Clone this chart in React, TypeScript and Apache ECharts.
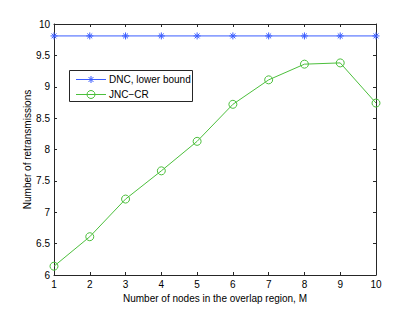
import React, { useEffect, useRef } from "react";
import * as echarts from "echarts";

const xValues = [1, 2, 3, 4, 5, 6, 7, 8, 9, 10];
const dncValues = [9.81, 9.81, 9.81, 9.81, 9.81, 9.81, 9.81, 9.81, 9.81, 9.81];
const jncValues = [6.14, 6.61, 7.21, 7.66, 8.13, 8.72, 9.11, 9.36, 9.38, 8.74];
const seriesNames = ["DNC, lower bound", "JNC\u2212CR"];

const FONT = "Liberation Sans, Arial, Helvetica, sans-serif";
const BLUE = "#3a5cff";
const GREEN = "#4cbf3c";
const AXIS = "#262626";
const STAR = "path://M0,-1L0,1M-1,0L1,0M-0.7,-0.7L0.7,0.7M-0.7,0.7L0.7,-0.7";

function starLines(cx: number, cy: number, r: number, color: string) {
  const d = 0.7 * r;
  const segs = [
    [0, -r, 0, r],
    [-r, 0, r, 0],
    [-d, -d, d, d],
    [-d, d, d, -d],
  ];
  return segs.map((s) => ({
    type: "line",
    shape: { x1: cx + s[0], y1: cy + s[1], x2: cx + s[2], y2: cy + s[3] },
    style: { stroke: color, lineWidth: 1 },
    z: 102,
  }));
}

export default function App() {
  const ref = useRef<HTMLDivElement>(null);
  useEffect(() => {
    if (!ref.current) return;
    const chart = echarts.init(ref.current, undefined, { renderer: "svg" });
    const axisCommon = {
      axisLine: { show: true, onZero: false, lineStyle: { color: AXIS, width: 1 } },
      axisTick: { show: true, inside: true, length: 3, lineStyle: { color: AXIS } },
      splitLine: { show: false },
    };
    const lx = 69, ly = 70, lw = 123, lh = 31;
    const r1 = 79, r2 = 94, sx1 = 76, sx2 = 106, mx = 91, tx = 109;
    chart.setOption({
      animation: false,
      backgroundColor: "#fff",
      textStyle: { fontFamily: FONT },
      grid: { left: 54, right: 39, top: 24, bottom: 35, containLabel: false },
      legend: { show: false },
      graphic: [
        {
          type: "rect",
          shape: { x: lx + 0.5, y: ly + 0.5, width: lw, height: lh },
          style: { fill: "#fff", stroke: AXIS, lineWidth: 1 },
          z: 100,
        },
        {
          type: "line",
          shape: { x1: sx1, y1: r1 + 0.5, x2: sx2, y2: r1 + 0.5 },
          style: { stroke: BLUE, lineWidth: 1 },
          z: 101,
        },
        ...starLines(mx, r1 + 0.5, 3.5, BLUE),
        {
          type: "text",
          x: tx,
          y: r1,
          style: {
            text: seriesNames[0],
            fill: "#000",
            font: `10px ${FONT}`,
            textVerticalAlign: "middle",
            verticalAlign: "middle",
          },
          z: 101,
        },
        {
          type: "line",
          shape: { x1: sx1, y1: r2 + 0.5, x2: sx2, y2: r2 + 0.5 },
          style: { stroke: GREEN, lineWidth: 1 },
          z: 101,
        },
        {
          type: "circle",
          shape: { cx: mx, cy: r2 + 0.5, r: 4 },
          style: { fill: "none", stroke: GREEN, lineWidth: 1 },
          z: 102,
        },
        {
          type: "text",
          x: tx,
          y: r2,
          style: {
            text: seriesNames[1],
            fill: "#000",
            font: `10px ${FONT}`,
            textVerticalAlign: "middle",
            verticalAlign: "middle",
          },
          z: 101,
        },
      ],
      xAxis: [
        {
          type: "value",
          min: 1,
          max: 10,
          interval: 1,
          position: "bottom",
          name: "Number of nodes in the overlap region, M",
          nameLocation: "middle",
          nameGap: 14,
          nameTextStyle: { fontFamily: FONT, fontSize: 10, color: "#000" },
          axisLabel: { margin: 4, fontFamily: FONT, fontSize: 10, color: "#000" },
          ...axisCommon,
        },
        {
          type: "value",
          min: 1,
          max: 10,
          interval: 1,
          position: "top",
          axisLabel: { show: false },
          ...axisCommon,
        },
      ],
      yAxis: [
        {
          type: "value",
          min: 6,
          max: 10,
          interval: 0.5,
          position: "left",
          name: "Number of retransmissions",
          nameLocation: "middle",
          nameGap: 22,
          nameMoveOverlap: false,
          nameTextStyle: { fontFamily: FONT, fontSize: 10, color: "#000" },
          axisLabel: { margin: 4, fontFamily: FONT, fontSize: 10, color: "#000" },
          ...axisCommon,
        },
        {
          type: "value",
          min: 6,
          max: 10,
          interval: 0.5,
          position: "right",
          axisLabel: { show: false },
          ...axisCommon,
        },
      ],
      series: [
        {
          name: seriesNames[0],
          type: "line",
          data: xValues.map((x, i) => [x, dncValues[i]]),
          symbol: STAR,
          symbolSize: 7,
          showAllSymbol: true,
          lineStyle: { color: BLUE, width: 1 },
          itemStyle: { color: "transparent", borderColor: BLUE, borderWidth: 1 },
        },
        {
          name: seriesNames[1],
          type: "line",
          data: xValues.map((x, i) => [x, jncValues[i]]),
          symbol: "circle",
          symbolSize: 8,
          showAllSymbol: true,
          lineStyle: { color: GREEN, width: 1 },
          itemStyle: { color: "transparent", borderColor: GREEN, borderWidth: 1 },
        },
      ],
    });
    return () => chart.dispose();
  }, []);
  return (
    <div
      ref={ref}
      style={{ position: "fixed", left: 0, top: 0, width: 415, height: 310 }}
    />
  );
}
